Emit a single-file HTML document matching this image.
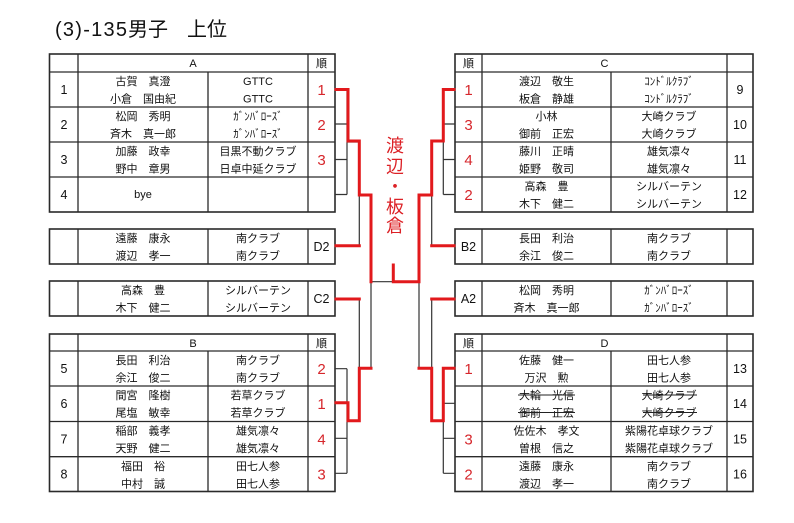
<!DOCTYPE html>
<html><head><meta charset="utf-8"><style>
html,body{margin:0;padding:0;background:#fff;}
svg{display:block;}
text{font-family:"Liberation Sans","Noto Sans CJK JP",sans-serif;fill:#111;}
.n{font-size:11px;text-anchor:middle;}
.h{font-size:11px;text-anchor:middle;}
.num{font-size:12.5px;text-anchor:middle;}
.rk{font-size:15px;text-anchor:middle;fill:#d6262b;}
.g{stroke:#2a2a2a;stroke-width:1.3;fill:none;}
.o{stroke:#2a2a2a;stroke-width:1.6;fill:none;}
.b{stroke:#333;stroke-width:1.2;fill:none;}
.r{stroke:#e2191c;stroke-width:3;fill:none;stroke-linejoin:miter;stroke-linecap:square;}
.vt{font-size:18px;text-anchor:middle;fill:#dc2126;}
</style></head><body>
<svg width="794" height="523" viewBox="0 0 794 523" xmlns="http://www.w3.org/2000/svg">
<rect width="794" height="523" fill="#fff"/>

<!-- Title -->
<text x="55" y="36" font-size="20" textLength="72" lengthAdjust="spacing">(3)-135</text>
<text x="128" y="36" font-size="20">男子</text>
<text x="187" y="36" font-size="20">上位</text>

<!-- ========== Table A ========== -->
<rect class="o" x="49.5" y="54" width="285.5" height="158"/>
<line class="g" x1="49.5" y1="72" x2="335" y2="72"/>
<line class="g" x1="49.5" y1="107" x2="335" y2="107"/>
<line class="g" x1="49.5" y1="142" x2="335" y2="142"/>
<line class="g" x1="49.5" y1="177" x2="335" y2="177"/>
<line class="g" x1="78" y1="54" x2="78" y2="212"/>
<line class="g" x1="308" y1="54" x2="308" y2="212"/>
<line class="g" x1="208" y1="72" x2="208" y2="212"/>
<text class="h" x="193" y="67">A</text>
<text class="h" x="321.5" y="67">順</text>
<!-- row1 -->
<text class="num" x="64" y="94">1</text>
<text class="n" x="143" y="85.2">古賀　真澄</text>
<text class="n" x="143" y="102.7">小倉　国由紀</text>
<text class="n" x="258" y="85.2">GTTC</text>
<text class="n" x="258" y="102.7">GTTC</text>
<text class="rk" x="321.5" y="95">1</text>
<!-- row2 -->
<text class="num" x="64" y="129">2</text>
<text class="n" x="143" y="120.2">松岡　秀明</text>
<text class="n" x="143" y="137.7">斉木　真一郎</text>
<text class="n" x="258" y="120.2">ｶﾞﾝﾊﾞﾛｰｽﾞ</text>
<text class="n" x="258" y="137.7">ｶﾞﾝﾊﾞﾛｰｽﾞ</text>
<text class="rk" x="321.5" y="130">2</text>
<!-- row3 -->
<text class="num" x="64" y="164">3</text>
<text class="n" x="143" y="155.2">加藤　政幸</text>
<text class="n" x="143" y="172.7">野中　章男</text>
<text class="n" x="258" y="155.2">目黒不動クラブ</text>
<text class="n" x="258" y="172.7">日卓中延クラブ</text>
<text class="rk" x="321.5" y="165">3</text>
<!-- row4 -->
<text class="num" x="64" y="199">4</text>
<text class="n" x="143" y="198" font-size="10">bye</text>

<!-- ========== Table C ========== -->
<rect class="o" x="455" y="54" width="298" height="158"/>
<line class="g" x1="455" y1="72" x2="753" y2="72"/>
<line class="g" x1="455" y1="107" x2="753" y2="107"/>
<line class="g" x1="455" y1="142" x2="753" y2="142"/>
<line class="g" x1="455" y1="177" x2="753" y2="177"/>
<line class="g" x1="482" y1="54" x2="482" y2="212"/>
<line class="g" x1="727" y1="54" x2="727" y2="212"/>
<line class="g" x1="611" y1="72" x2="611" y2="212"/>
<text class="h" x="468.5" y="67">順</text>
<text class="h" x="604.5" y="67">C</text>
<text class="rk" x="468.5" y="95">1</text>
<text class="n" x="546.5" y="85.2">渡辺　敬生</text>
<text class="n" x="546.5" y="102.7">板倉　静雄</text>
<text class="n" x="669" y="85.2">ｺﾝﾄﾞﾙｸﾗﾌﾞ</text>
<text class="n" x="669" y="102.7">ｺﾝﾄﾞﾙｸﾗﾌﾞ</text>
<text class="num" x="740" y="94">9</text>
<text class="rk" x="468.5" y="130">3</text>
<text class="n" x="546.5" y="120.2">小林</text>
<text class="n" x="546.5" y="137.7">御前　正宏</text>
<text class="n" x="669" y="120.2">大崎クラブ</text>
<text class="n" x="669" y="137.7">大崎クラブ</text>
<text class="num" x="740" y="129">10</text>
<text class="rk" x="468.5" y="165">4</text>
<text class="n" x="546.5" y="155.2">藤川　正晴</text>
<text class="n" x="546.5" y="172.7">姫野　敬司</text>
<text class="n" x="669" y="155.2">雄気凛々</text>
<text class="n" x="669" y="172.7">雄気凛々</text>
<text class="num" x="740" y="164">11</text>
<text class="rk" x="468.5" y="200">2</text>
<text class="n" x="546.5" y="190.2">高森　豊</text>
<text class="n" x="546.5" y="207.7">木下　健二</text>
<text class="n" x="669" y="190.2">シルバーテン</text>
<text class="n" x="669" y="207.7">シルバーテン</text>
<text class="num" x="740" y="199">12</text>

<!-- ========== Middle left D2 / C2 ========== -->
<rect class="o" x="49.5" y="229" width="285.5" height="35"/>
<line class="g" x1="78" y1="229" x2="78" y2="264"/>
<line class="g" x1="208" y1="229" x2="208" y2="264"/>
<line class="g" x1="308" y1="229" x2="308" y2="264"/>
<text class="n" x="143" y="242.2">遠藤　康永</text>
<text class="n" x="143" y="259.7">渡辺　孝一</text>
<text class="n" x="258" y="242.2">南クラブ</text>
<text class="n" x="258" y="259.7">南クラブ</text>
<text class="num" x="321.5" y="251">D2</text>

<rect class="o" x="49.5" y="281" width="285.5" height="35"/>
<line class="g" x1="78" y1="281" x2="78" y2="316"/>
<line class="g" x1="208" y1="281" x2="208" y2="316"/>
<line class="g" x1="308" y1="281" x2="308" y2="316"/>
<text class="n" x="143" y="294.2">高森　豊</text>
<text class="n" x="143" y="311.7">木下　健二</text>
<text class="n" x="258" y="294.2">シルバーテン</text>
<text class="n" x="258" y="311.7">シルバーテン</text>
<text class="num" x="321.5" y="303">C2</text>

<!-- ========== Middle right B2 / A2 ========== -->
<rect class="o" x="455" y="229" width="298" height="35"/>
<line class="g" x1="482" y1="229" x2="482" y2="264"/>
<line class="g" x1="611" y1="229" x2="611" y2="264"/>
<line class="g" x1="727" y1="229" x2="727" y2="264"/>
<text class="num" x="468.5" y="251">B2</text>
<text class="n" x="546.5" y="242.2">長田　利治</text>
<text class="n" x="546.5" y="259.7">余江　俊二</text>
<text class="n" x="669" y="242.2">南クラブ</text>
<text class="n" x="669" y="259.7">南クラブ</text>

<rect class="o" x="455" y="281" width="298" height="35"/>
<line class="g" x1="482" y1="281" x2="482" y2="316"/>
<line class="g" x1="611" y1="281" x2="611" y2="316"/>
<line class="g" x1="727" y1="281" x2="727" y2="316"/>
<text class="num" x="468.5" y="303">A2</text>
<text class="n" x="546.5" y="294.2">松岡　秀明</text>
<text class="n" x="546.5" y="311.7">斉木　真一郎</text>
<text class="n" x="669" y="294.2">ｶﾞﾝﾊﾞﾛｰｽﾞ</text>
<text class="n" x="669" y="311.7">ｶﾞﾝﾊﾞﾛｰｽﾞ</text>

<!-- ========== Table B ========== -->
<rect class="o" x="49.5" y="334" width="285.5" height="157.5"/>
<line class="g" x1="49.5" y1="351" x2="335" y2="351"/>
<line class="g" x1="49.5" y1="386" x2="335" y2="386"/>
<line class="g" x1="49.5" y1="421.5" x2="335" y2="421.5"/>
<line class="g" x1="49.5" y1="456.7" x2="335" y2="456.7"/>
<line class="g" x1="78" y1="334" x2="78" y2="491.5"/>
<line class="g" x1="308" y1="334" x2="308" y2="491.5"/>
<line class="g" x1="208" y1="351" x2="208" y2="491.5"/>
<text class="h" x="193" y="347">B</text>
<text class="h" x="321.5" y="347">順</text>
<text class="num" x="64" y="373">5</text>
<text class="n" x="143" y="364.2">長田　利治</text>
<text class="n" x="143" y="381.7">余江　俊二</text>
<text class="n" x="258" y="364.2">南クラブ</text>
<text class="n" x="258" y="381.7">南クラブ</text>
<text class="rk" x="321.5" y="374">2</text>
<text class="num" x="64" y="408">6</text>
<text class="n" x="143" y="399.2">間宮　隆樹</text>
<text class="n" x="143" y="416.7">尾塩　敏幸</text>
<text class="n" x="258" y="399.2">若草クラブ</text>
<text class="n" x="258" y="416.7">若草クラブ</text>
<text class="rk" x="321.5" y="409">1</text>
<text class="num" x="64" y="443.5">7</text>
<text class="n" x="143" y="434.7">稲部　義孝</text>
<text class="n" x="143" y="452.2">天野　健二</text>
<text class="n" x="258" y="434.7">雄気凛々</text>
<text class="n" x="258" y="452.2">雄気凛々</text>
<text class="rk" x="321.5" y="444.5">4</text>
<text class="num" x="64" y="478.5">8</text>
<text class="n" x="143" y="469.9">福田　裕</text>
<text class="n" x="143" y="487.4">中村　誠</text>
<text class="n" x="258" y="469.9">田七人参</text>
<text class="n" x="258" y="487.4">田七人参</text>
<text class="rk" x="321.5" y="479.5">3</text>

<!-- ========== Table D ========== -->
<rect class="o" x="455" y="334" width="298" height="157.5"/>
<line class="g" x1="455" y1="351" x2="753" y2="351"/>
<line class="g" x1="455" y1="386" x2="753" y2="386"/>
<line class="g" x1="455" y1="421.5" x2="753" y2="421.5"/>
<line class="g" x1="455" y1="456.7" x2="753" y2="456.7"/>
<line class="g" x1="482" y1="334" x2="482" y2="491.5"/>
<line class="g" x1="727" y1="334" x2="727" y2="491.5"/>
<line class="g" x1="611" y1="351" x2="611" y2="491.5"/>
<text class="h" x="468.5" y="347">順</text>
<text class="h" x="604.5" y="347">D</text>
<text class="rk" x="468.5" y="374">1</text>
<text class="n" x="546.5" y="364.2">佐藤　健一</text>
<text class="n" x="546.5" y="381.7">万沢　勲</text>
<text class="n" x="669" y="364.2">田七人参</text>
<text class="n" x="669" y="381.7">田七人参</text>
<text class="num" x="740" y="373">13</text>
<text class="n" x="546.5" y="399.2">大輪　光信</text>
<text class="n" x="546.5" y="416.7">御前　正宏</text>
<text class="n" x="669" y="399.2">大崎クラブ</text>
<text class="n" x="669" y="416.7">大崎クラブ</text>
<line x1="518" y1="395" x2="575" y2="395" stroke="#222" stroke-width="1"/>
<line x1="518" y1="412.5" x2="575" y2="412.5" stroke="#222" stroke-width="1"/>
<line x1="643" y1="395" x2="697" y2="395" stroke="#222" stroke-width="1"/>
<line x1="643" y1="412.5" x2="697" y2="412.5" stroke="#222" stroke-width="1"/>
<text class="num" x="740" y="408">14</text>
<text class="rk" x="468.5" y="444.5">3</text>
<text class="n" x="546.5" y="434.7">佐佐木　孝文</text>
<text class="n" x="546.5" y="452.2">曽根　信之</text>
<text class="n" x="669" y="434.7">紫陽花卓球クラブ</text>
<text class="n" x="669" y="452.2">紫陽花卓球クラブ</text>
<text class="num" x="740" y="443.5">15</text>
<text class="rk" x="468.5" y="479.5">2</text>
<text class="n" x="546.5" y="469.9">遠藤　康永</text>
<text class="n" x="546.5" y="487.4">渡辺　孝一</text>
<text class="n" x="669" y="469.9">南クラブ</text>
<text class="n" x="669" y="487.4">南クラブ</text>
<text class="num" x="740" y="478.5">16</text>

<!-- ========== Black bracket lines ========== -->
<!-- left top -->
<path class="b" d="M335 89.5H347 M335 124H347 M335 159.5H347 M335 194.5H347 M347 89.5V194.5 M347 142H359.3 M359.3 142V245.7 M335 245.7H359.3 M359.3 195H371 M371 195V368.3"/>
<!-- left bottom -->
<path class="b" d="M335 368.7H347 M335 403H347 M335 438.3H347 M335 473.3H347 M347 368.7V473.3 M347 420.7H359.3 M359.3 299V420.7 M335 299H359.3 M359.3 368.3H371"/>
<!-- final -->
<path class="b" d="M371 281.7H419 M393.3 265V281.7"/>
<!-- right top -->
<path class="b" d="M455 89.5H443.3 M455 124H443.3 M455 159.5H443.3 M455 194.5H443.3 M443.3 89.5V194.5 M443.3 141H431.7 M431.7 141V245.7 M455 245.7H431.7 M431.7 195H419 M419 195V368.3"/>
<!-- right bottom -->
<path class="b" d="M455 368.3H443.3 M455 403.3H443.3 M455 438.3H443.3 M455 473.3H443.3 M443.3 368.3V473.3 M443.3 420.7H431.7 M431.7 299V420.7 M455 299H431.7 M431.7 368.3H419"/>

<!-- ========== Red winner lines ========== -->
<path class="r" d="M336 89.5H348V141H359.3V195H371V281.7"/>
<path class="r" d="M336 245.7H359.3"/>
<path class="r" d="M336 299H359.3"/>
<path class="r" d="M336 402.7H348V420.7H359.3V368.3H371"/>
<path class="r" d="M454 89.5H443.3V141H431.7V195H419V281.7H393.3V265"/>
<path class="r" d="M454 245.7H431.7"/>
<path class="r" d="M454 299H431.7"/>
<path class="r" d="M454 368.3H443.3V420.7H431.7V368.3H419"/>

<!-- Vertical winner names -->
<text class="vt" x="395" y="152">渡</text>
<text class="vt" x="395" y="173">辺</text>
<text class="vt" x="395" y="193">・</text>
<text class="vt" x="395" y="213">板</text>
<text class="vt" x="395" y="232">倉</text>
</svg>
</body></html>
